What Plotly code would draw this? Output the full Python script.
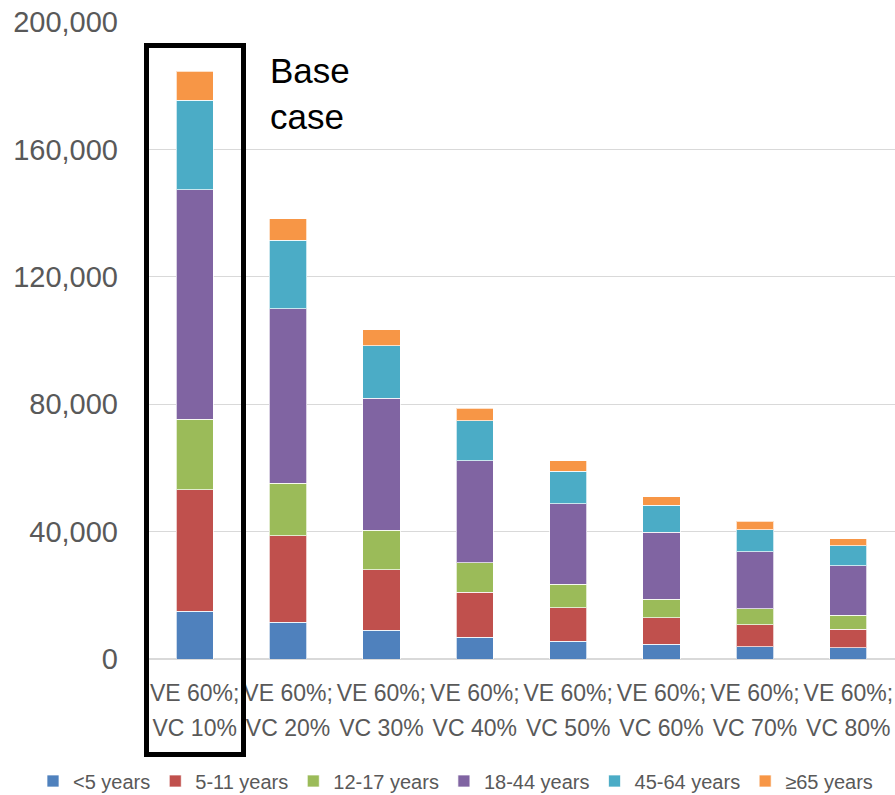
import plotly.graph_objects as go

# Scenario labels (vaccine efficacy; vaccine coverage)
scenarios = ["VE 60%;<br>VC 10%", "VE 60%;<br>VC 20%", "VE 60%;<br>VC 30%", "VE 60%;<br>VC 40%",
             "VE 60%;<br>VC 50%", "VE 60%;<br>VC 60%", "VE 60%;<br>VC 70%", "VE 60%;<br>VC 80%"]

# Cases by age group for each scenario
age_lt5 = [15000, 11500, 9000, 6900, 5600, 4600, 3900, 3500]
age_5_11 = [38100, 27200, 19100, 14000, 10500, 8400, 6900, 5800]
age_12_17 = [22200, 16500, 12400, 9300, 7300, 5800, 5000, 4400]
age_18_44 = [72100, 54800, 41400, 32000, 25400, 21000, 17900, 15600]
age_45_64 = [28100, 21500, 16400, 12600, 10100, 8400, 6900, 6200]
age_ge65 = [9000, 6800, 5100, 4000, 3300, 2700, 2600, 2200]

group_names = ["<5 years", "5-11 years", "12-17 years", "18-44 years", "45-64 years", "≥65 years"]
group_values = [age_lt5, age_5_11, age_12_17, age_18_44, age_45_64, age_ge65]
group_colors = ["#4F81BD", "#C0504D", "#9BBB59", "#8064A2", "#4BACC6", "#F79646"]

y_ticks = [0, 40000, 80000, 120000, 160000, 200000]

W, H = 895, 795
ML, MR, MT, MB = 148, 0, 22, 136
PW, PH = W - ML - MR, H - MT - MB


def px_x(p):
    return (p - ML) / PW


def px_y(p):
    return (H - MB - p) / PH


tick_text = ['<span style="font-size:23px">' + s.replace("<br>", '</span><br><span style="font-size:23px">') + "</span>"
             for s in scenarios]

fig = go.Figure()
for name, vals, col in zip(group_names, group_values, group_colors):
    fig.add_trace(go.Bar(
        x=scenarios, y=vals, name=name,
        marker=dict(color=col, line=dict(color="rgba(255,255,255,0.7)", width=1)),
    ))

fig.update_layout(
    width=W, height=H,
    margin=dict(l=ML, r=MR, t=MT, b=MB, autoexpand=False),
    barmode="stack",
    bargap=0.6,
    plot_bgcolor="white",
    paper_bgcolor="white",
    font=dict(family="Liberation Sans, Arial, sans-serif", color="#595959"),
    xaxis=dict(
        tickmode="array", tickvals=scenarios, ticktext=tick_text,
        tickangle=0, tickfont=dict(size=27, color="#595959"),
        showgrid=False, zeroline=False, showline=False, ticks="",
        ticklabelstandoff=14,
    ),
    yaxis=dict(
        range=[0, 200000], tickvals=y_ticks, tickformat=",",
        tickfont=dict(size=29, color="#595959"),
        showgrid=True, gridcolor="#D9D9D9", gridwidth=1.3,
        zeroline=True, zerolinecolor="#D9D9D9", zerolinewidth=1.5,
        showline=False, ticks="", ticklabelstandoff=29,
    ),
    legend=dict(
        orientation="h", traceorder="normal",
        xref="paper", x=px_x(33), xanchor="left",
        yref="paper", y=px_y(781), yanchor="middle",
        font=dict(size=20, color="#595959"),
        bgcolor="rgba(0,0,0,0)",
    ),
    showlegend=True,
)

# Highlight box around the base-case scenario
fig.add_shape(
    type="rect", xref="paper", yref="paper",
    x0=px_x(146.5), x1=px_x(243.5), y0=px_y(754.5), y1=px_y(45.5),
    line=dict(color="black", width=5), fillcolor="rgba(0,0,0,0)", layer="above",
)
fig.add_annotation(
    xref="paper", yref="paper", x=px_x(268), y=px_y(94),
    xanchor="left", yanchor="middle", align="left", showarrow=False,
    text="Base<br>case", font=dict(size=35, color="black", family="Liberation Sans, Arial, sans-serif"),
)

fig.write_html("out.html")
